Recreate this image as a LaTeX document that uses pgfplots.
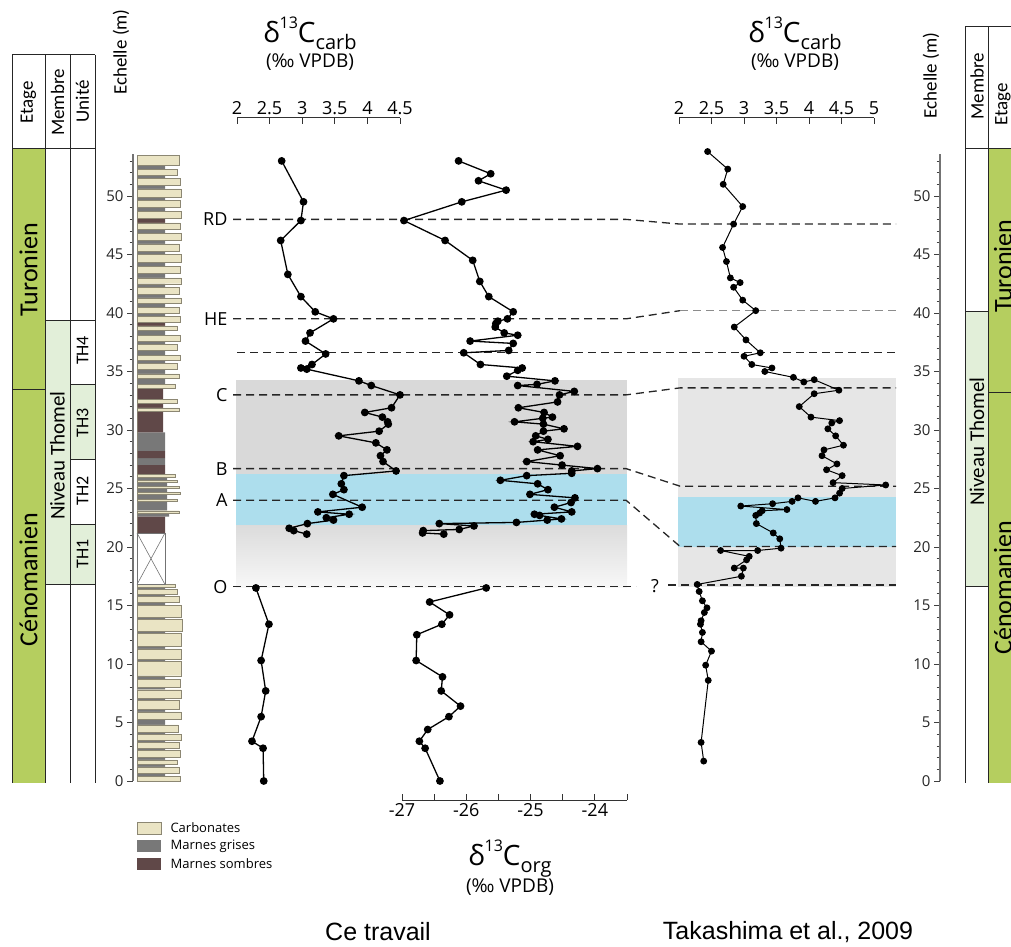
\documentclass[border=0pt]{standalone}
\usepackage{pgfplots}
\pgfplotsset{compat=1.18}
\usepackage{pgfplotstable}
\usepackage{fontspec}
\setmainfont{Open Sans}
\newfontfamily\calib{Carlito}
\newfontfamily\arialf{Liberation Sans}
\newcommand\fs[1]{\fontsize{#1}{#1}\selectfont}
\definecolor{etage}{RGB}{181,206,95}
\definecolor{pale}{RGB}{226,239,217}
\definecolor{carb}{RGB}{234,228,196}
\definecolor{carbedge}{RGB}{140,135,115}
\definecolor{mgris}{RGB}{120,120,120}
\definecolor{msombre}{RGB}{96,72,72}
\definecolor{bandgray}{RGB}{217,217,217}
\definecolor{bandblue}{RGB}{173,222,237}
\definecolor{bandgrayb}{RGB}{230,230,230}

\pgfplotstableread{
y wc wg wd
0.0 43 0 0
0.4 0 28 0
0.7 42 0 0
1.2 0 28 0
1.4 40 0 0
1.8 0 28 0
2.0 43 0 0
2.6 0 28 0
2.8 42 0 0
3.3 0 28 0
3.5 44 0 0
4.0 0 28 0
4.2 41 0 0
4.8 0 28 0
5.3 44 0 0
5.9 0 28 0
6.1 42 0 0
6.9 0 28 0
7.1 44 0 0
7.8 0 28 0
8.0 43 0 0
8.7 0 28 0
9.0 44 0 0
10.2 0 28 0
10.4 44 0 0
11.3 0 28 0
11.5 44 0 0
12.6 0 28 0
12.8 45 0 0
13.8 0 28 0
14.0 44 0 0
15.0 0 28 0
15.3 42 0 0
15.8 0 28 0
16.0 40 0 0
16.4 0 28 0
16.6 38 0 0
16.8 0 0 0
21.2 0 0 28
22.6 0 32 0
22.9 42 0 0
23.1 0 30 0
23.9 40 0 0
24.1 0 30 0
24.5 43 0 0
24.7 0 30 0
25.0 42 0 0
25.2 0 30 0
25.5 40 0 0
25.7 0 30 0
26.0 38 0 0
26.2 0 0 28
27.0 0 28 0
27.6 0 0 28
28.2 0 28 0
29.8 0 0 26
31.6 42 0 0
31.9 0 0 26
32.3 40 0 0
32.6 0 0 26
33.6 38 0 0
33.9 0 28 0
34.4 42 0 0
34.8 0 28 0
35.2 40 0 0
35.7 0 28 0
36.0 43 0 0
36.4 0 28 0
36.8 40 0 0
37.3 0 28 0
37.6 43 0 0
38.1 0 28 0
38.5 40 0 0
38.9 0 0 28
39.2 43 0 0
39.7 0 28 0
40.0 42 0 0
40.5 0 28 0
40.8 44 0 0
41.3 0 28 0
41.6 42 0 0
42.2 0 28 0
42.5 44 0 0
43.0 0 28 0
43.4 43 0 0
44.0 0 28 0
44.3 44 0 0
45.0 0 28 0
45.3 42 0 0
45.9 0 28 0
46.2 44 0 0
46.8 0 28 0
47.2 43 0 0
47.7 0 0 28
48.1 44 0 0
48.7 0 28 0
49.0 43 0 0
49.6 0 28 0
49.9 44 0 0
50.6 0 28 0
50.9 43 0 0
51.5 0 28 0
51.8 40 0 0
52.3 0 28 0
52.6 42 0 0
53.5 0 0 0
}\litho

\pgfplotstableread{
v m
2.685 53.0
3.02 49.5
2.98 47.9
2.67 46.2
2.78 43.3
2.98 41.4
3.20 40.1
3.48 39.5
3.12 38.3
3.05 37.6
3.36 36.5
3.15 35.6
2.98 35.3
3.07 35.2
3.87 34.2
4.06 33.8
4.50 33.0
4.37 31.9
3.96 31.5
4.23 31.1
4.31 30.7
4.32 30.5
4.18 29.9
3.56 29.5
4.13 28.9
4.30 28.3
4.20 27.8
4.24 27.3
4.44 26.5
3.64 26.1
3.60 25.4
3.64 24.9
3.47 24.5
3.92 23.4
3.24 23.0
3.72 22.8
3.37 22.5
3.48 22.3
3.08 22.0
2.80 21.6
2.87 21.4
3.07 21.1
}\carbA

\pgfplotstableread{
v m
2.29 16.5
2.49 13.4
2.37 10.3
2.44 7.7
2.37 5.5
2.23 3.4
2.40 2.8
2.41 0.0
}\carbB

\pgfplotstableread{
v m
-26.12 53.0
-25.62 51.9
-25.81 51.3
-25.38 50.5
-26.07 49.5
-26.97 47.9
-26.33 46.2
-25.90 44.5
-25.79 42.7
-25.65 41.4
-25.27 40.1
-25.36 39.5
-25.51 39.3
-25.54 39.1
-25.55 38.8
-25.41 38.3
-25.20 38.1
-25.94 37.6
-25.27 37.4
-25.34 36.8
-26.04 36.6
-25.78 35.6
-25.13 35.3
-25.20 35.1
-25.37 34.6
-24.62 34.2
-24.90 33.9
-25.20 33.8
-24.32 33.3
-24.55 33.0
-24.58 32.4
-25.19 31.9
-24.79 31.5
-24.66 31.1
-24.81 31.0
-25.25 30.7
-24.80 30.5
-24.48 30.1
-24.80 29.9
-24.92 29.5
-24.73 29.2
-24.96 29.0
-24.27 28.6
-24.89 28.3
-24.54 27.8
-25.06 27.3
-24.51 27.0
-23.96 26.7
-24.36 26.5
-24.36 26.3
-25.06 26.1
-25.47 25.7
-24.89 25.4
-24.73 24.9
-25.01 24.5
-24.31 24.2
-24.37 23.8
-24.63 23.4
-24.36 23.0
-24.94 22.8
-24.86 22.7
-24.52 22.4
-24.74 22.3
-25.22 22.1
-26.42 22.0
-25.88 21.8
-26.11 21.5
-26.67 21.4
-26.68 21.2
-26.35 21.1
}\orgA

\pgfplotstableread{
v m
-25.69 16.5
-26.57 15.3
-26.26 14.2
-26.38 13.4
-26.77 12.5
-26.78 10.3
-26.37 8.9
-26.39 7.7
-26.09 6.4
-26.27 5.5
-26.60 4.4
-26.73 3.4
-26.64 2.8
-26.41 0.0
}\orgB

\pgfplotstableread{
v m
2.44 53.8
2.75 52.3
2.68 51.0
2.98 49.1
2.84 47.6
2.67 45.6
2.73 44.4
2.79 43.0
2.94 42.6
2.84 42.2
2.98 41.1
3.18 40.2
2.85 38.8
3.03 37.7
3.25 36.6
3.00 36.3
3.12 35.6
3.43 35.3
3.32 35.0
3.76 34.5
3.92 34.1
4.08 34.3
4.46 33.4
4.08 33.1
3.85 32.0
4.03 31.1
4.47 30.8
4.35 30.6
4.29 30.1
4.41 29.5
4.53 28.7
4.23 28.3
4.20 27.8
4.43 27.1
4.27 26.6
4.51 26.1
4.37 25.5
5.18 25.3
4.51 25.0
4.47 24.6
4.40 24.2
4.10 23.9
3.83 24.2
3.74 23.9
3.44 23.7
2.95 23.5
3.66 23.2
3.28 23.1
3.24 22.9
3.18 22.7
3.19 22.0
3.45 21.2
3.55 20.7
3.57 19.9
3.21 19.7
2.64 19.7
3.08 19.2
3.04 18.9
2.85 18.2
2.99 18.2
2.96 17.5
2.28 16.8
2.31 16.2
2.36 15.4
2.43 14.8
2.39 14.4
2.34 13.7
2.33 13.4
2.36 12.7
2.34 11.9
2.50 11.1
2.41 9.9
2.45 8.6
2.34 3.3
2.38 1.7
}\tak

\tikzset{corr/.style={black!85, line width=1.3pt, dash pattern=on 8pt off 5pt}}

\begin{document}
\begin{tikzpicture}[x=1pt,y=1pt]
\useasboundingbox (0,0) rectangle (1011,946);

% ---------------- canvas: x in px, y in metres ----------------
\begin{axis}[at={(0pt,0pt)}, anchor=south west, x=1pt, y=11.7pt,
  xmin=0, xmax=1011, ymin=-14.1026, ymax=66.7521, hide axis, clip=false]
\addplot[draw=none] coordinates {(0,0)};
% shaded bands, left panel
\fill[bandgray] (236,26.24) rectangle (627,34.27);
\fill[bandblue] (236,21.88) rectangle (627,26.24);
\shade[top color=black!14, bottom color=black!3] (236,16.58) rectangle (627,21.88);
% shaded bands, right panel
\fill[bandgrayb] (678,16.58) rectangle (896,34.44);
\fill[bandblue] (678,20.0) rectangle (896,24.27);

% correlation lines
\draw[corr] (233,48.0) -- (626,48.0) -- (680,47.6) -- (896,47.6);
\draw[corr] (233,39.5) -- (626,39.5) -- (680,40.2);
\draw[black!45, line width=1.1pt, dash pattern=on 8pt off 5pt] (680,40.2) -- (896,40.2);
\draw[corr, line width=1.1pt] (237,36.6) -- (896,36.6);
\draw[corr] (233,33.0) -- (626,33.0) -- (680,33.6) -- (896,33.6);
\draw[corr] (233,26.7) -- (626,26.7) -- (680,25.2) -- (896,25.2);
\draw[corr] (233,24.0) -- (626,24.0) -- (680,20.05) -- (896,20.05);
\draw[corr, line width=1.1pt] (233,16.6) -- (636,16.6);
\draw[corr, line width=1.1pt] (668,16.75) -- (896,16.75);
\node[font=\fs{18}] at (655,16.7) {?};

% line labels
\node[font=\fs{18}, anchor=east] at (231,48.0) {RD};
\node[font=\fs{18}, anchor=east] at (231,39.5) {HE};
\node[font=\fs{18}, anchor=east] at (231,33.0) {C};
\node[font=\fs{18}, anchor=east] at (231,26.7) {B};
\node[font=\fs{18}, anchor=east] at (231,24.0) {A};
\node[font=\fs{18}, anchor=east] at (231,16.6) {O};

% ---- left stratigraphic columns ----
\fill[etage] (12,54.017) rectangle (45,-0.171);
\fill[pale] (45,39.4) rectangle (70,16.8);
\fill[pale] (70,33.9) rectangle (95,27.5);
\fill[pale] (70,21.9) rectangle (95,16.8);
\begin{scope}[black!85, line width=1pt]
\draw (12,62.051) -- (12,-0.171);
\draw (45,62.051) -- (45,-0.171);
\draw (70,62.051) -- (70,-0.171);
\draw (95,62.051) -- (95,-0.171);
\draw (12,62.051) -- (95,62.051);
\draw (12,54.017) -- (95,54.017);
\draw (12,33.42) -- (45,33.42);
\draw (45,39.4) -- (95,39.4);
\draw (45,16.8) -- (95,16.8);
\draw (70,33.9) -- (95,33.9);
\draw (70,27.5) -- (95,27.5);
\draw (70,21.9) -- (95,21.9);
\end{scope}
\node[font=\calib\fs{19}, rotate=90] at (28.5,58.0) {Etage};
\node[font=\calib\fs{19}, rotate=90] at (57.5,58.0) {Membre};
\node[font=\calib\fs{19}, rotate=90] at (82.5,58.1) {Unité};
\node[font=\calib\fs{26}, rotate=90] at (28.5,43.7) {Turonien};
\node[font=\calib\fs{26}, rotate=90] at (28.5,17.2) {Cénomanien};
\node[font=\calib\fs{21}, rotate=90] at (57.5,27.8) {Niveau Thomel};
\node[font=\calib\fs{18}, rotate=90] at (82.5,36.8) {TH4};
\node[font=\calib\fs{18}, rotate=90] at (82.5,30.6) {TH3};
\node[font=\calib\fs{18}, rotate=90] at (82.5,24.8) {TH2};
\node[font=\calib\fs{18}, rotate=90] at (82.5,19.4) {TH1};
\node[font=\calib\fs{19}, rotate=90] at (121,62.3) {Echelle (m)};

% ---- right stratigraphic columns ----
\fill[etage] (988,54.017) rectangle (1011,-0.171);
\fill[pale] (965,40.1) rectangle (988,16.6);
\begin{scope}[black!85, line width=1pt]
\draw (965,64.444) -- (965,-0.171);
\draw (988,64.444) -- (988,-0.171);
\draw (965,64.444) -- (1011,64.444);
\draw (965,54.017) -- (1011,54.017);
\draw (988,33.2) -- (1011,33.2);
\draw (965,40.1) -- (988,40.1);
\draw (965,16.6) -- (988,16.6);
\end{scope}
\node[font=\calib\fs{19}, rotate=90] at (977,59.4) {Membre};
\node[font=\calib\fs{19}, rotate=90] at (1003,57.8) {Etage};
\node[font=\calib\fs{26}, rotate=90] at (1003,44.0) {Turonien};
\node[font=\calib\fs{26}, rotate=90] at (1003,16.5) {Cénomanien};
\node[font=\calib\fs{21}, rotate=90] at (977,29.0) {Niveau Thomel};
\node[font=\calib\fs{19}, rotate=90] at (931,60.3) {Echelle (m)};

% ---- titles ----
\node[font=\fs{28}] at (310,63.9) {δ\raisebox{0.5em}{\fs{16}13}C\raisebox{-0.25em}{\fs{20}carb}};
\node[font=\fs{19}] at (310,61.4) {(‰ VPDB)};
\node[font=\fs{28}] at (795,63.9) {δ\raisebox{0.5em}{\fs{16}13}C\raisebox{-0.25em}{\fs{20}carb}};
\node[font=\fs{19}] at (795,61.4) {(‰ VPDB)};
\node[font=\fs{28}] at (510,-6.6) {δ\raisebox{0.5em}{\fs{16}13}C\raisebox{-0.25em}{\fs{20}org}};
\node[font=\fs{19}] at (510,-9.06) {(‰ VPDB)};

% ---- legend ----
\filldraw[fill=carb, draw=carbedge, line width=0.5pt] (137,-3.5) rectangle (161,-4.55);
\fill[mgris] (137,-5.04) rectangle (161,-6.07);
\fill[msombre] (137,-6.58) rectangle (161,-7.61);
\node[font=\fs{13}, anchor=west] at (167,-4.02) {Carbonates};
\node[font=\fs{13}, anchor=west] at (167,-5.56) {Marnes grises};
\node[font=\fs{13}, anchor=west] at (167,-7.10) {Marnes sombres};

% ---- captions ----
\node[font=\arialf\fs{25}] at (378,-12.9) {Ce travail};
\node[font=\arialf\fs{25}] at (788,-12.9) {Takashima et al., 2009};
\end{axis}

% ---------------- lithological log ----------------
\begin{axis}[at={(137pt,165pt)}, anchor=south west, x=1pt, y=11.7pt,
  xmin=0, xmax=50, ymin=0, ymax=54, hide axis, clip=false]
\addplot[xbar interval, fill=mgris, draw=none] table[x=wg, y=y] {\litho};
\addplot[xbar interval, fill=msombre, draw=none] table[x=wd, y=y] {\litho};
\addplot[xbar interval, fill=carb, draw=carbedge, line width=0.4pt] table[x=wc, y=y] {\litho};
\draw[black!55, line width=0.6pt] (0,16.8) rectangle (28,21.2);
\draw[black!55, line width=0.6pt] (0,16.8) -- (28,21.2) (0,21.2) -- (28,16.8);
\end{axis}

% ---------------- left depth scale ----------------
\begin{axis}[at={(133pt,165pt)}, anchor=south west, x=1pt, y=11.7pt,
  xmin=0, xmax=1, ymin=0, ymax=53.6,
  axis x line=none, axis y line=left, axis line style={-, black!55, line width=1.4pt},
  ytick={0,5,10,15,20,25,30,35,40,45,50}, minor ytick={0,1,...,53},
  tick align=outside, major tick length=6pt, minor tick length=3.5pt,
  tick style={black!75, line width=0.7pt},
  yticklabel style={font=\fs{15}, text=black!85},
  /pgf/number format/assume math mode=true]
\addplot[draw=none] coordinates {(0,0)};
\end{axis}

% ---------------- right depth scale ----------------
\begin{axis}[at={(940pt,165pt)}, anchor=south west, x=1pt, y=11.7pt,
  xmin=0, xmax=1, ymin=0, ymax=53.6,
  axis x line=none, axis y line=left, axis line style={-, black!55, line width=1.4pt},
  ytick={0,5,10,15,20,25,30,35,40,45,50}, minor ytick={0,1,...,53},
  tick align=outside, major tick length=6pt, minor tick length=3.5pt,
  tick style={black!75, line width=0.7pt},
  yticklabel style={font=\fs{15}, text=black!85},
  /pgf/number format/assume math mode=true]
\addplot[draw=none] coordinates {(0,0)};
\end{axis}

% ---------------- d13C carb (this work) ----------------
\begin{axis}[at={(237pt,165pt)}, anchor=south west, x=65.2pt, y=11.7pt,
  xmin=2, xmax=4.5, ymin=0, ymax=56.667,
  axis x line=top, axis y line=none, axis line style={-, black!80, line width=1pt},
  xtick={2,2.5,3,3.5,4,4.5}, tick align=inside, major tick length=6pt,
  tick style={black!80, line width=0.8pt},
  xticklabel style={font=\fs{18}}, clip=false,
  /pgf/number format/assume math mode=true]
\addplot[black, line width=1.3pt, mark=*, mark size=3.2pt] table[x=v, y=m] {\carbA};
\addplot[black, line width=1.3pt, mark=*, mark size=3.2pt] table[x=v, y=m] {\carbB};
\end{axis}

% ---------------- d13C org (this work) ----------------
\begin{axis}[at={(402pt,146pt)}, anchor=south west, x=64.2857pt, y=11.7pt,
  xmin=-27, xmax=-23.5, ymin=-1.6239, ymax=54,
  axis x line=bottom, axis y line=none, axis line style={-, black!80, line width=1pt},
  xtick={-27,-26,-25,-24}, minor xtick={-26.5,-25.5,-24.5,-23.5},
  tick align=inside, major tick length=6pt, minor tick length=6pt,
  tick style={black!80, line width=0.8pt},
  xticklabel style={font=\fs{18}}, clip=false,
  /pgf/number format/assume math mode=true]
\addplot[black, line width=1.3pt, mark=*, mark size=3.2pt] table[x=v, y=m] {\orgA};
\addplot[black, line width=1.3pt, mark=*, mark size=3.2pt] table[x=v, y=m] {\orgB};
\end{axis}

% ---------------- d13C carb (Takashima) ----------------
\begin{axis}[at={(679pt,165pt)}, anchor=south west, x=65pt, y=11.7pt,
  xmin=2, xmax=5, ymin=0, ymax=56.667,
  axis x line=top, axis y line=none, axis line style={-, black!80, line width=1pt},
  xtick={2,2.5,3,3.5,4,4.5,5}, tick align=inside, major tick length=6pt,
  tick style={black!80, line width=0.8pt},
  xticklabel style={font=\fs{18}}, clip=false,
  /pgf/number format/assume math mode=true]
\addplot[black, line width=1pt, mark=*, mark size=2.9pt] table[x=v, y=m] {\tak};
\end{axis}
\end{tikzpicture}
\end{document}
